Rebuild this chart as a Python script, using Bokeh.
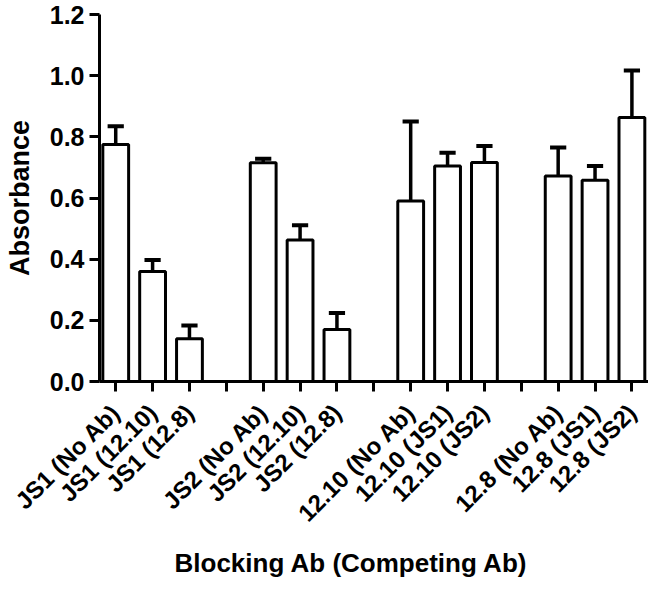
import math
from bokeh.plotting import figure
from bokeh.models import (FixedTicker, CustomJSTickFormatter, NumeralTickFormatter,
                          Range1d, ColumnDataSource, Title)
from bokeh.embed import file_html
from bokeh.resources import INLINE

# ---- data ----
groups = ["JS1", "JS2", "12.10", "12.8"]
bar_labels = [
    ["JS1 (No Ab)", "JS1 (12.10)", "JS1 (12.8)"],
    ["JS2 (No Ab)", "JS2 (12.10)", "JS2 (12.8)"],
    ["12.10 (No Ab)", "12.10 (JS1)", "12.10 (JS2)"],
    ["12.8 (No Ab)", "12.8 (JS1)", "12.8 (JS2)"],
]
means = [
    [0.775, 0.360, 0.140],
    [0.715, 0.463, 0.170],
    [0.590, 0.705, 0.716],
    [0.672, 0.658, 0.863],
]
errors = [
    [0.060, 0.037, 0.043],
    [0.013, 0.048, 0.054],
    [0.260, 0.043, 0.054],
    [0.093, 0.047, 0.154],
]
y_ticks = [0.0, 0.2, 0.4, 0.6, 0.8, 1.0, 1.2]
x_title = "Blocking Ab (Competing Ab)"
y_title = "Absorbance"

# ---- build slots (each group followed by an empty slot) ----
slot_labels = []
xs, tops, errs = [], [], []
for g, labs in enumerate(bar_labels):
    for j, lab in enumerate(labs):
        xs.append(len(slot_labels))
        tops.append(means[g][j])
        errs.append(errors[g][j])
        slot_labels.append(lab)
    if g < len(bar_labels) - 1:
        slot_labels.append("")

hi = [t + e for t, e in zip(tops, errs)]
cap = 0.22
src = ColumnDataSource(dict(x=xs, top=tops, hi=hi,
                            cl=[x - cap for x in xs], cr=[x + cap for x in xs]))

FONT = "Liberation Sans"

p = figure(width=648, height=583, output_backend="svg", toolbar_location=None,
           x_range=Range1d(-0.44, len(slot_labels) - 0.55), y_range=Range1d(0, 1.2),
           min_border_left=99, min_border_right=0, min_border_top=14, min_border_bottom=202)
p.outline_line_color = None
p.xgrid.visible = False
p.ygrid.visible = False
p.background_fill_color = "white"

# error bars (upper only)
p.segment(x0="x", y0="top", x1="x", y1="hi", source=src, line_color="black", line_width=3.5)
p.segment(x0="cl", y0="hi", x1="cr", y1="hi", source=src, line_color="black", line_width=4)
# bars
p.vbar(x="x", top="top", bottom=0, width=0.7, source=src,
       fill_color="white", line_color="black", line_width=3)

# axes
for ax in (p.xaxis[0], p.yaxis[0]):
    ax.axis_line_width = 3
    ax.axis_line_color = "black"
    ax.major_tick_line_width = 3
    ax.major_tick_line_color = "black"
    ax.major_tick_out = 10
    ax.major_tick_in = 0
    ax.minor_tick_line_color = None
    ax.major_label_text_font = FONT
    ax.major_label_text_font_style = "bold"
    ax.major_label_text_color = "black"
    ax.axis_label_text_font = FONT
    ax.axis_label_text_font_style = "bold"
    ax.axis_label_text_color = "black"

p.yaxis.ticker = FixedTicker(ticks=y_ticks)
p.yaxis.formatter = NumeralTickFormatter(format="0.0")
p.yaxis.major_label_text_font_size = "25px"
p.yaxis.major_label_standoff = 5
p.yaxis.axis_label = y_title
p.yaxis.axis_label_text_font_size = "27px"
p.yaxis.axis_label_standoff = 12

p.xaxis.ticker = FixedTicker(ticks=list(range(len(slot_labels))))
p.xaxis.formatter = CustomJSTickFormatter(args=dict(labels=slot_labels),
                                          code="const i = Math.round(tick); return labels[i] || '';")
p.xaxis.major_label_orientation = math.pi / 4
p.xaxis.major_label_text_font_size = "24px"
p.xaxis.major_label_standoff = 17

xt = Title(text=x_title, align="left", offset=75, text_font=FONT, text_font_style="bold",
           text_font_size="26px", text_color="black", standoff=12)
p.add_layout(xt, "below")

open("out.html", "w").write(file_html(p, INLINE))
